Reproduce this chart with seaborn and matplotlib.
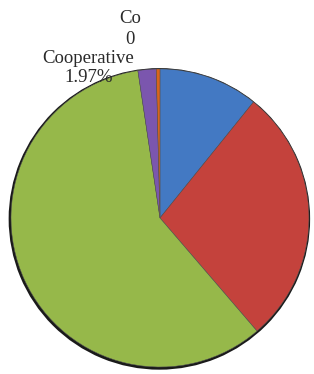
import matplotlib
matplotlib.use("Agg")
import matplotlib.pyplot as plt
import seaborn as sns

categories = ["A", "B", "C", "Cooperative", "Co"]
values = [10.8, 27.9, 58.9, 1.97, 0.4]
colors = ["#4379c3", "#c4423c", "#96b84a", "#7b56ae", "#d9641c"]

sns.set_theme(style="white")
plt.rcParams["font.family"] = ["Liberation Serif", "DejaVu Serif"]

fig = plt.figure(figsize=(3.14, 3.74), dpi=100)
ax = fig.add_axes([0, 0, 1, 1])
ax.axis("off")

# dark rim behind the pie
ax.pie([1], radius=1.012, colors=["#1a1a1a"], center=(-0.004, -0.006),
       wedgeprops=dict(linewidth=0))
ax.pie(values, colors=colors, startangle=90, counterclock=False,
       wedgeprops=dict(edgecolor="#555555", linewidth=0.35))
ax.set_xlim(-1.074, 1.034)
ax.set_ylim(-1.047, 1.463)
ax.set_aspect("auto")

ax.text(-0.48, 1.005, f"{categories[3]}\n{values[3]:.2f}%", ha="center", va="center",
        fontsize=13.5, color="#2a2a2a", linespacing=1.15)
ax.text(-0.20, 1.27, f"{categories[4]}\n0", ha="center", va="center",
        fontsize=13.5, color="#2a2a2a", linespacing=1.3)

fig.savefig("out.png", dpi=100)
